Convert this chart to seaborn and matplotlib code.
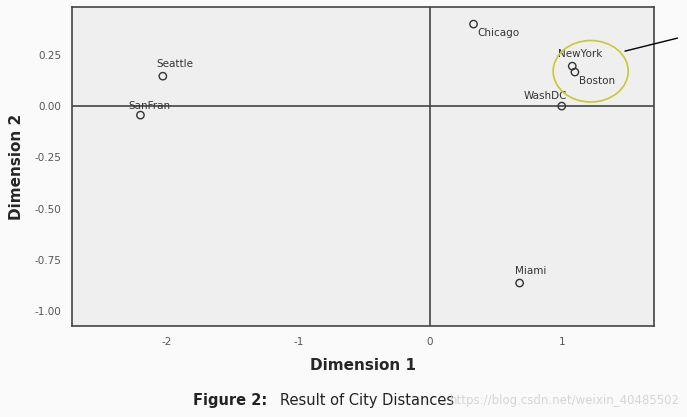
import pandas as pd
import numpy as np
import matplotlib.pyplot as plt
import seaborn as sns
from matplotlib.patches import Ellipse

# MDS coordinates
cities = ['Seattle', 'SanFran', 'Chicago', 'NewYork', 'Boston', 'WashDC', 'Miami']
dim1 = [-2.03, -2.20, 0.33, 1.08, 1.10, 1.00, 0.68]
dim2 = [0.146, -0.044, 0.40, 0.195, 0.166, 0.0, -0.863]
x_ticks = [-2, -1, 0, 1]
y_ticks = [0.25, 0.00, -0.25, -0.50, -0.75, -1.00]

df = pd.DataFrame({'city': cities, 'Dimension 1': dim1, 'Dimension 2': dim2})

sns.set_style('white')
plt.rcParams['font.family'] = ['DejaVu Sans']

fig = plt.figure(figsize=(6.87, 4.17), dpi=100)
fig.patch.set_facecolor('#fafafa')
ax = fig.add_axes([0.1048, 0.218, 0.847, 0.765])
ax.set_facecolor('#efefef')

sns.scatterplot(data=df, x='Dimension 1', y='Dimension 2', ax=ax,
                marker='o', s=28, facecolor='none', edgecolor='#333333',
                linewidth=1.0, zorder=3)

ax.axhline(0, color='#444444', lw=1.2, zorder=1)
ax.axvline(0, color='#444444', lw=1.2, zorder=1)

# label offsets in points
offsets = {'Seattle': (-5, 5, 'left', 'bottom'),
           'SanFran': (-9, 3, 'left', 'bottom'),
           'Chicago': (3, -3, 'left', 'top'),
           'NewYork': (-10, 5, 'left', 'bottom'),
           'Boston': (3, -3, 'left', 'top'),
           'WashDC': (4, 4, 'right', 'bottom'),
           'Miami': (-3, 5, 'left', 'bottom')}
for c, xv, yv in zip(cities, dim1, dim2):
    dx, dy, ha, va = offsets[c]
    ax.annotate(c, (xv, yv), xytext=(dx, dy), textcoords='offset points',
                ha=ha, va=va, fontsize=7.5, color='#333333')

ax.add_patch(Ellipse((1.22, 0.17), 0.57, 0.30, fill=False,
                     edgecolor='#c8c832', lw=1.2, zorder=4))
ax.annotate('', xy=(1.46, 0.265), xytext=(1.90, 0.335),
            xycoords='data', textcoords='data',
            arrowprops=dict(arrowstyle='-', color='black', lw=1.0),
            annotation_clip=False)

ax.set_xlim(-2.72, 1.70)
ax.set_ylim(-1.073, 0.483)
ax.set_xticks(x_ticks)
ax.set_xticklabels([str(t) for t in x_ticks])
ax.set_yticks(y_ticks)
ax.set_yticklabels([f'{t:.2f}' for t in y_ticks])
ax.tick_params(axis='both', direction='out', length=4, width=1,
               color='#444444', labelsize=7.5, labelcolor='#555555')
for sp in ax.spines.values():
    sp.set_color('#444444')
    sp.set_linewidth(1.2)

ax.set_xlabel('Dimension 1', fontsize=11, fontweight='bold', labelpad=8)
ax.set_ylabel('Dimension 2', fontsize=11, fontweight='bold', labelpad=8)

fig.text(0.281, 0.04, 'Figure 2:', fontsize=10.5, fontweight='bold',
         color='#222222', va='center')
fig.text(0.407, 0.04, 'Result of City Distances', fontsize=10.5,
         color='#222222', va='center')
fig.text(0.99, 0.04, 'https://blog.csdn.net/weixin_40485502', fontsize=8.5,
         color='#cccccc', va='center', ha='right', alpha=0.8)

fig.savefig('out.png', dpi=100, facecolor=fig.get_facecolor())
